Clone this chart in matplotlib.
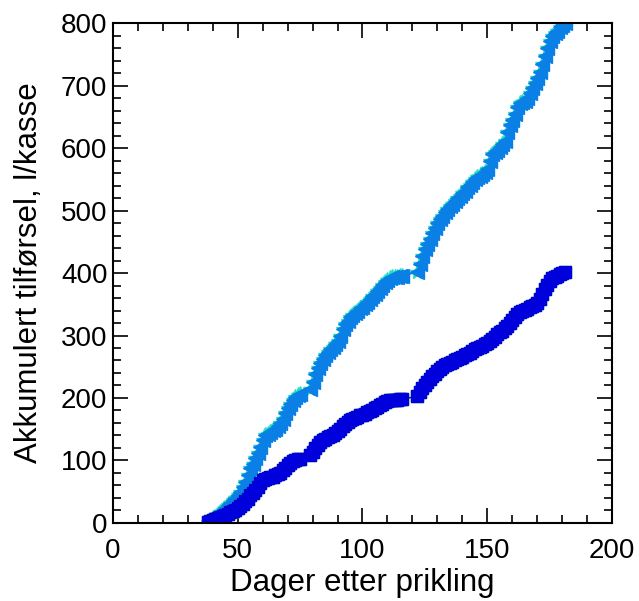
import matplotlib
matplotlib.use("Agg")
import matplotlib.pyplot as plt
from matplotlib.ticker import MultipleLocator

plt.rcParams["font.family"] = ["Liberation Sans", "DejaVu Sans"]

# days with registered irrigation (gaps 76-78 and 117-121 have no record)
DAYS = (list(range(38, 76)) + list(range(79, 117)) + list(range(122, 182)))

# accumulated supply, l per box - upper treatment
SUPPLY_HIGH = [
    2, 5, 8, 10, 14, 17, 20, 24, 28, 32, 37, 40, 44, 50, 58, 66, 76, 88, 95,
    104, 112, 122, 132, 140, 143, 145, 148, 151, 155, 160, 167, 176, 184, 190,
    196, 202, 205, 206,
    214, 225, 238, 248, 256, 262, 268, 273, 278, 281, 286, 292, 300, 310, 318,
    324, 330, 333, 336, 340, 344, 346, 350, 354, 358, 363, 367, 371, 376, 381,
    385, 389, 392, 393, 394, 394, 395, 395,
    402, 415, 428, 438, 446, 455, 464, 472, 480, 486, 492, 498, 503, 507, 511,
    515, 520, 524, 528, 532, 537, 541, 546, 550, 553, 556, 559, 562, 566, 580,
    590, 593, 597, 602, 606, 612, 625, 637, 645, 655, 665, 672, 674, 676, 680,
    688, 696, 704, 712, 722, 735, 748, 760, 772, 780, 784, 788, 793, 797, 800,
]

# accumulated supply, l per box - lower treatment
SUPPLY_LOW = [
    1, 3, 5, 6, 8, 10, 11, 13, 15, 17, 19, 21, 24, 27, 31, 35, 39, 44, 48,
    53, 58, 64, 68, 71, 72, 73, 74, 76, 78, 80, 84, 88, 92, 96, 99, 101, 102,
    103,
    108, 114, 120, 125, 129, 132, 135, 137, 139, 141, 144, 147, 151, 155, 159,
    162, 165, 167, 168, 170, 172, 173, 175, 177, 179, 181, 184, 186, 188, 190,
    193, 195, 196, 197, 197, 197, 198, 198,
    203, 210, 216, 221, 225, 230, 235, 239, 243, 246, 249, 252, 254, 256, 258,
    260, 262, 264, 266, 268, 270, 272, 275, 278, 280, 282, 284, 286, 288, 291,
    295, 298, 302, 305, 308, 312, 316, 320, 325, 330, 334, 337, 339, 341, 343,
    345, 347, 349, 352, 358, 366, 374, 381, 387, 392, 394, 396, 398, 400, 401,
]

fig = plt.figure(figsize=(6.39, 6.01), dpi=100)
ax = fig.add_axes([0.1768, 0.1298, 0.7809, 0.8319])

# overlapping replicate series drawn underneath (only edges peek out)
ax.plot(DAYS, SUPPLY_HIGH, ls="-", lw=1, color="#22d8c0", marker="*",
        ms=11, mec="#22e0c0", mfc="#22e0c0")
ax.plot(DAYS, SUPPLY_HIGH, ls="-", lw=1, color="#0a80e6", marker="<",
        ms=9.5, mec="#0a80e6", mfc="#0a80e6")

ax.plot(DAYS, SUPPLY_LOW, ls="-", lw=1, color="#30c030", marker="s",
        ms=9.2, mec="#60d020", mfc="#60d020")
ax.plot(DAYS, SUPPLY_LOW, ls="-", lw=1, color="#202060", marker="s",
        ms=8.8, mec="#0000dc", mfc="#0000dc")

ax.set_xlim(0, 200)
ax.set_ylim(0, 800)
ax.xaxis.set_major_locator(MultipleLocator(50))
ax.xaxis.set_minor_locator(MultipleLocator(10))
ax.yaxis.set_major_locator(MultipleLocator(100))
ax.yaxis.set_minor_locator(MultipleLocator(20))
ax.tick_params(which="both", direction="in", top=True, right=True,
               labelsize=20, width=1.2, colors="black")
ax.tick_params(which="major", length=11, pad=4)
ax.tick_params(which="minor", length=6)
ax.tick_params(axis="x", which="major", pad=11)
for sp in ax.spines.values():
    sp.set_linewidth(1.5)

ax.set_xlabel("Dager etter prikling", fontsize=22.5, labelpad=3)
ax.set_ylabel("Akkumulert tilførsel, l/kasse", fontsize=22.5, labelpad=12)

fig.savefig("out.png", dpi=100)
